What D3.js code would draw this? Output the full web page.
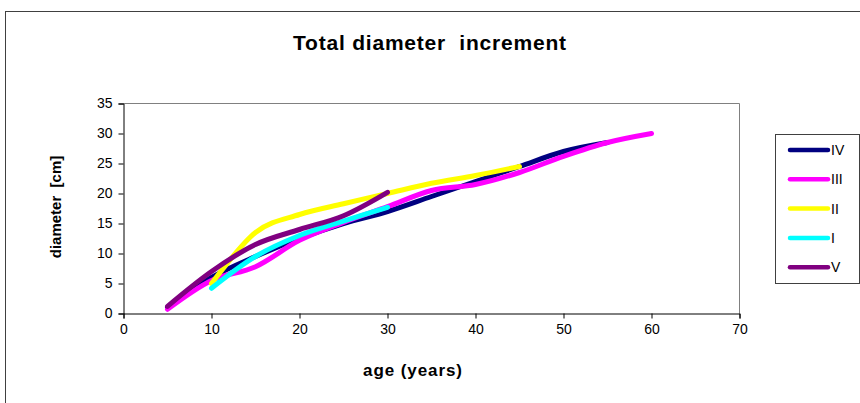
<!DOCTYPE html>
<html><head><meta charset="utf-8">
<script src="https://cdn.jsdelivr.net/npm/d3@7"></script>
<style>body{margin:0;background:#fff}svg{display:block}text{font-family:"Liberation Sans",Arial,sans-serif}</style>
</head><body>
<svg id="c" width="860" height="403"></svg>
<script>
const seriesNames = ["IV","III","II","I","V"];
const seriesColors = ["#000080","#FF00FF","#FFFF00","#00FFFF","#800080"];
const agesIV  = [5,10,15,20,25,30,35,40,45,50,55];
const valsIV  = [1,6,9.5,12.5,15,17,19.5,22,24.5,27,28.5];
const agesIII = [5,10,15,20,25,30,35,40,45,50,55,60];
const valsIII = [0.7,5.5,7.8,12.2,15.2,17.8,20.5,21.5,23.5,26.2,28.5,30];
const agesII  = [10,15,20,25,30,35,40,45];
const valsII  = [5,13.5,16.5,18.3,20,21.7,23,24.5];
const agesI   = [10,15,20,25,30];
const valsI   = [4.2,9.5,13,15.4,17.7];
const agesV   = [5,10,15,20,25,30];
const valsV   = [1.2,7,11.5,14,16.3,20.2];
const xTicks = [0,10,20,30,40,50,60,70];
const yTicks = [0,5,10,15,20,25,30,35];

const seriesAges = [agesIV,agesIII,agesII,agesI,agesV];
const seriesVals = [valsIV,valsIII,valsII,valsI,valsV];
const series = seriesNames.map((n,i)=>({name:n,color:seriesColors[i],
  pts:seriesAges[i].map((a,j)=>[a,seriesVals[i][j]])}));

const svg = d3.select("#c");
const L=123.5, R=739.5, T=103.5, B=313.5;
const x = d3.scaleLinear().domain([0,70]).range([L,R]);
const y = d3.scaleLinear().domain([0,35]).range([B,T]);

// outer frame
svg.append("rect").attr("x",5.5).attr("y",11.5).attr("width",1000).attr("height",1000)
  .attr("fill","none").attr("stroke","#404040").attr("stroke-width",1);

svg.append("text").attr("x",293).attr("y",50)
  .attr("font-size",21).attr("font-weight","bold").style("white-space","pre")
  .attr("textLength",273).attr("lengthAdjust","spacing")
  .text("Total diameter  increment");

// plot area border (gray)
svg.append("path").attr("d",`M${L},${T}H${R}V${B}`).attr("fill","none").attr("stroke","#808080");

const xa = svg.append("g").attr("transform",`translate(0,${B})`)
  .call(d3.axisBottom(x).tickValues(xTicks).tickSize(5).tickPadding(6).tickFormat(d3.format("d")));
const ya = svg.append("g").attr("transform",`translate(${L},0)`)
  .call(d3.axisLeft(y).tickValues(yTicks).tickSize(5).tickPadding(6).tickFormat(d3.format("d")));
[xa,ya].forEach(g=>{
  g.selectAll("text").attr("font-size",14).attr("fill","#000").style("font-family","Liberation Sans, Arial, sans-serif");
  g.selectAll("line").attr("stroke","#000");
  g.select(".domain").attr("stroke","#000");
});

svg.append("text").attr("x",363).attr("y",376)
  .attr("font-size",17).attr("font-weight","bold")
  .attr("textLength",99).attr("lengthAdjust","spacing").text("age (years)");
svg.append("text").attr("transform","translate(61,207) rotate(-90)").attr("text-anchor","middle")
  .attr("font-size",15).attr("font-weight","bold").style("white-space","pre").text("diameter  [cm]");

const line = d3.line().x(d=>x(d[0])).y(d=>y(d[1])).curve(d3.curveCardinal.tension(0));
svg.append("g").selectAll("path").data(series).join("path")
  .attr("d",d=>line(d.pts)).attr("fill","none").attr("stroke",d=>d.color)
  .attr("stroke-width",5).attr("stroke-linecap","round").attr("stroke-linejoin","round");

// legend
svg.append("rect").attr("x",775.5).attr("y",134.5).attr("width",84).attr("height",149)
  .attr("fill","#fff").attr("stroke","#404040");
const lg = svg.append("g").selectAll("g").data(series).join("g")
  .attr("transform",(d,i)=>`translate(0,${150+i*29.3})`);
lg.append("line").attr("x1",790).attr("x2",828).attr("stroke",d=>d.color)
  .attr("stroke-width",4.5).attr("stroke-linecap","round");
lg.append("text").attr("x",831).attr("y",5).attr("font-size",14).text(d=>d.name);
</script>
</body></html>
